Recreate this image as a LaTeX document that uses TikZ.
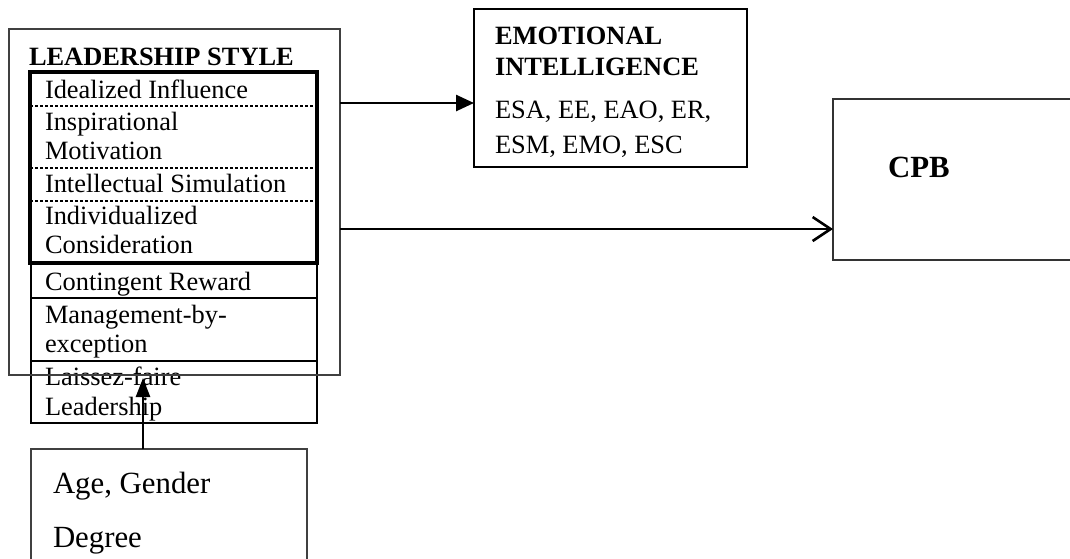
\documentclass[tikz,border=0pt]{standalone}
\usepackage{fontspec}
\setmainfont{Liberation Serif}
\usetikzlibrary{arrows.meta}
\begin{document}
\begin{tikzpicture}[x=1pt,y=-1pt,
  every node/.style={inner sep=0pt, outer sep=0pt},
  frame/.style={draw=black!75, line width=1.4pt, anchor=north west},
  thickframe/.style={draw=black, line width=3.6pt, anchor=north west},
  rowbox/.style={draw=black, line width=2.3pt, anchor=north west},
  txt/.style={anchor=base west, font=\fontsize{26.4}{31}\selectfont},
  bigtxt/.style={anchor=base west, font=\fontsize{30.8}{36}\selectfont},
  sep/.style={line width=1.3pt, dash pattern=on 3pt off 2pt},
  arr/.style={line width=2.6pt}
]
\useasboundingbox (0,0) rectangle (1070,558);
\fill[white] (0,0) rectangle (1070,558);

% leadership style block
\node[frame, minimum width=331pt, minimum height=346pt] (ls) at (9,29) {};
\node[thickframe, minimum width=287pt, minimum height=191pt] (tf) at (30,72) {};
\node[rowbox, minimum width=286pt, minimum height=35pt] (cr) at (31,263) {};
\node[rowbox, minimum width=286pt, minimum height=63pt] (mbe) at (31,298) {};
\node[rowbox, minimum width=286pt, minimum height=62pt] (lf) at (31,361) {};

\coordinate (d1) at (0,106);
\coordinate (d2) at (0,168);
\coordinate (d3) at (0,201);
\draw[sep] (tf.west |- d1) -- (tf.east |- d1);
\draw[sep] (tf.west |- d2) -- (tf.east |- d2);
\draw[sep] (tf.west |- d3) -- (tf.east |- d3);

\node[txt, font=\fontsize{26.4}{31}\selectfont\bfseries] (lsh) at (29,65) {LEADERSHIP STYLE};
\node[txt] (t1) at (45,98) {Idealized Influence};
\node[txt] (t2a) at (45,130) {Inspirational};
\node[txt] (t2b) at (45,159) {Motivation};
\node[txt] (t3) at (45,192) {Intellectual Simulation};
\node[txt] (t4a) at (45,224) {Individualized};
\node[txt] (t4b) at (45,253) {Consideration};
\node[txt] (t5) at (45,290) {Contingent Reward};
\node[txt] (t6a) at (45,323) {Management-by-};
\node[txt] (t6b) at (45,352) {exception};
\node[txt] (t7a) at (45,385) {Laissez-faire};
\node[txt] (t7b) at (45,415) {Leadership};
\draw[draw=black!75, line width=1.4pt] (ls.south west) -- (ls.south east);

% emotional intelligence
\node[draw=black, line width=1.6pt, anchor=north west, minimum width=273pt, minimum height=158pt] (ei) at (474,9) {};
\node[txt, font=\fontsize{26.4}{31}\selectfont\bfseries] (ei1) at (495,44) {EMOTIONAL};
\node[txt, font=\fontsize{26.4}{31}\selectfont\bfseries] (ei2) at (495,75) {INTELLIGENCE};
\node[txt] (ei3) at (495,118) {ESA, EE, EAO, ER,};
\node[txt] (ei4) at (495,153) {ESM, EMO, ESC};

% outcome
\node[draw=black!80, line width=1.5pt, anchor=north west, minimum width=260pt, minimum height=161pt] (cpb) at (833,99) {};
\node[bigtxt, font=\fontsize{30.8}{36}\selectfont\bfseries] (cpbt) at (888,177) {CPB};

% demographics
\node[draw=black!75, line width=1.4pt, anchor=north west, minimum width=276pt, minimum height=140pt] (age) at (31,449) {};
\node[bigtxt] (age1) at (53,493) {Age, Gender};
\node[bigtxt] (age2) at (53,547) {Degree};

% connectors
\coordinate (y1) at (0,103);
\coordinate (y2) at (0,229);
\coordinate (x3) at (143,0);
\coordinate (up) at (143,378);
\draw[arr, -{Triangle[length=18pt,width=16pt]}] (ls.east |- y1) -- (ei.west |- y1);
\draw[arr, -{Straight Barb[length=18pt,width=24pt,line width=2.6pt]}] (ls.east |- y2) -- (cpb.west |- y2);
\draw[arr, -{Triangle[length=19pt,width=14pt]}] (age.north -| x3) -- (up);
\end{tikzpicture}
\end{document}
